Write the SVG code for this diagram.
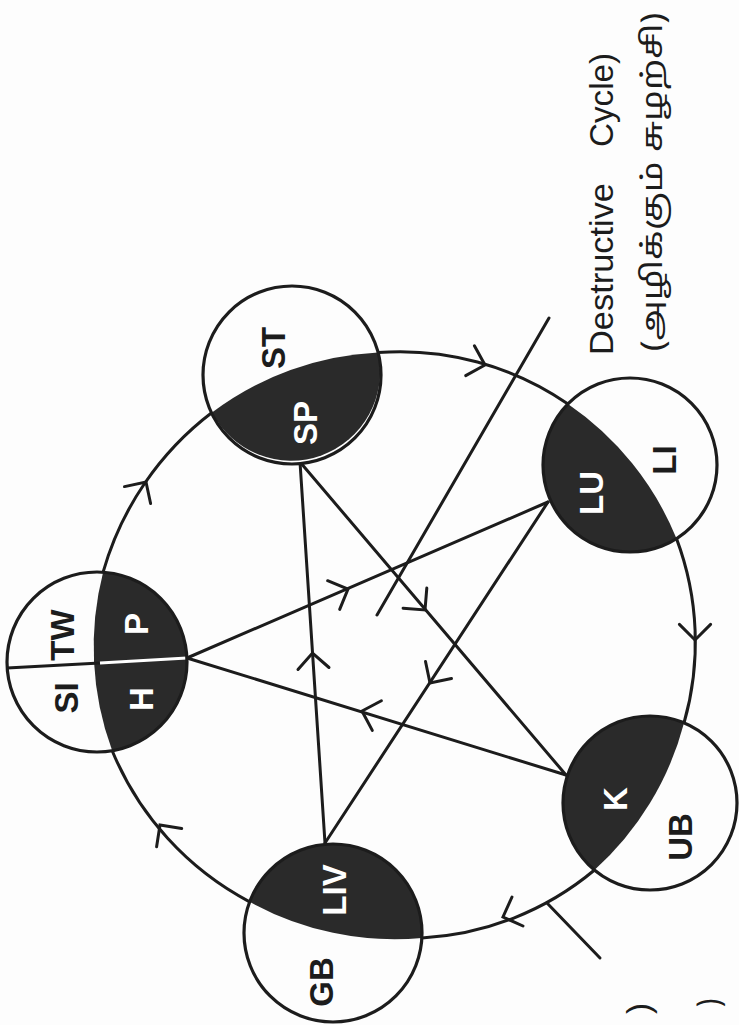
<svg xmlns="http://www.w3.org/2000/svg" width="739" height="1025" viewBox="0 0 739 1025">
<style>
.bg{fill:#fdfdfd}
.ln{fill:none;stroke:#1c1c1c;stroke-width:3;stroke-linecap:round;stroke-linejoin:round}
.ah{fill:none;stroke:#1c1c1c;stroke-width:3;stroke-linecap:round;stroke-linejoin:miter}
.nc{fill:#fdfdfd}
.ring{fill:none;stroke:#1c1c1c;stroke-width:3.2}
.dk{fill:#2a2a2a}
.lb{font-family:"Liberation Sans",Arial,sans-serif;font-weight:bold;font-size:33px;text-anchor:middle}
.w{fill:#ffffff}
.b{fill:#1c1c1c}
.tx{font-family:"Liberation Sans",Arial,sans-serif;font-size:33px;fill:#1c1c1c}
.ta{font-family:"Noto Sans Tamil","Lohit Tamil","Noto Sans",sans-serif;font-size:28px;fill:#1c1c1c}
</style>
<rect class="bg" x="0" y="0" width="739" height="1025"/>

<g id="connectors">
  <path class="ln" d="M103.1,572.2 A305,305 0 0,1 212,412.5"/>
  <path class="ln" d="M378,352.5 A296,296 0 0,1 568,404"/>
  <path class="ln" d="M676.5,538.6 A294,294 0 0,1 684,723"/>
  <path class="ln" d="M594.5,870 A293,293 0 0,1 421.9,938"/>
  <path class="ln" d="M249.6,901.8 A300,300 0 0,1 112.2,750.7"/>
  <path class="ln" d="M187,658 L548,502"/>
  <path class="ln" d="M566,775 L187,658"/>
  <path class="ln" d="M300,462 L566,775"/>
  <path class="ln" d="M325,843 L300,462"/>
  <path class="ln" d="M548,502 L325,843"/>
  <path class="ln" d="M549,318 L377,615"/>
  <path class="ln" d="M547,903 L600,958"/>
  <path class="ah" d="M124.5,486.6 L146,482 L150.6,503.5"/>
  <path class="ah" d="M474.4,345.7 L485,365 L465.7,375.6"/>
  <path class="ah" d="M679.4,624.4 L695,640 L710.6,624.4"/>
  <path class="ah" d="M512,897 L503,917 L523,926"/>
  <path class="ah" d="M156.6,846.7 L160,825 L181.7,828.4"/>
  <path class="ah" d="M327.6,580.7 L348,589 L339.7,609.4"/>
  <path class="ah" d="M426.8,588.1 L425,610 L403.1,608.2"/>
  <path class="ah" d="M451.5,678.5 L430,683 L425.5,661.5"/>
  <path class="ah" d="M372.3,730.4 L362,711 L381.4,700.7"/>
  <path class="ah" d="M298,669.5 L312.5,653 L329,667.5"/>
</g>

<g id="node-st-sp">
  <circle class="nc" cx="292" cy="375" r="89"/>
  <path class="dk" d="M212,412.5 A89,89 0 0,0 378,352.5 A300,300 0 0,0 212,412.5 Z"/>
  <circle class="ring" cx="292" cy="375" r="89"/>
  <text class="lb b" transform="translate(273,348) rotate(-90)" y="12">ST</text>
  <text class="lb w" transform="translate(305,423) rotate(-90)" y="12">SP</text>
</g>

<g id="node-lu-li">
  <circle class="nc" cx="630" cy="465" r="87"/>
  <path class="dk" d="M568,404 A87,87 0 0,0 676.5,538.6 A300,300 0 0,0 568,404 Z"/>
  <circle class="ring" cx="630" cy="465" r="87"/>
  <text class="lb w" transform="translate(591,493) rotate(-90)" y="12">LU</text>
  <text class="lb b" transform="translate(664,460) rotate(-90)" y="12">LI</text>
</g>

<g id="node-k-ub">
  <circle class="nc" cx="650" cy="803" r="87"/>
  <path class="dk" d="M684,723 A87,87 0 0,0 594.5,870 A300,300 0 0,0 684,723 Z"/>
  <circle class="ring" cx="650" cy="803" r="87"/>
  <text class="lb w" transform="translate(615,799) rotate(-90)" y="12">K</text>
  <text class="lb b" transform="translate(680,837) rotate(-90)" y="12">UB</text>
</g>

<g id="node-liv-gb">
  <circle class="nc" cx="333" cy="933" r="89"/>
  <path class="dk" d="M421.9,938 A89,89 0 0,0 249.6,901.8 A300,300 0 0,0 421.9,938 Z"/>
  <circle class="ring" cx="333" cy="933" r="89"/>
  <text class="lb w" transform="translate(334,890) rotate(-90)" y="12">LIV</text>
  <text class="lb b" transform="translate(321,982) rotate(-90)" y="12">GB</text>
</g>

<g id="node-h-p-si-tw">
  <circle class="nc" cx="97" cy="662" r="90"/>
  <path class="dk" d="M103.1,572.2 A90,90 0 0,1 112.2,750.7 A300,300 0 0,1 103.1,572.2 Z"/>
  <line x1="7" y1="668" x2="100" y2="663" stroke="#1c1c1c" stroke-width="2.8"/>
  <line x1="100" y1="663" x2="187" y2="658" stroke="#ffffff" stroke-width="2.8"/>
  <circle class="ring" cx="97" cy="662" r="90"/>
  <text class="lb b" transform="translate(66,698) rotate(-90)" y="12">SI</text>
  <text class="lb b" transform="translate(62,635) rotate(-90)" y="12">TW</text>
  <text class="lb w" transform="translate(136,624) rotate(-90)" y="12">P</text>
  <text class="lb w" transform="translate(141,699) rotate(-90)" y="12">H</text>
</g>

<g id="legend">
  <text class="tx" transform="translate(613,355) rotate(-90)" textLength="172" lengthAdjust="spacingAndGlyphs">Destructive</text>
  <text class="tx" transform="translate(613,147) rotate(-90)" textLength="94" lengthAdjust="spacingAndGlyphs">Cycle)</text>
  <text class="ta" transform="translate(662,352) rotate(-90)" textLength="340" lengthAdjust="spacingAndGlyphs">(அழிக்கும் சுழற்சி)</text>
  <text class="tx" transform="translate(650,1003) rotate(-90)" text-anchor="end">)</text>
  <text class="ta" transform="translate(718,998) rotate(-90)" text-anchor="end">)</text>
</g>
</svg>
